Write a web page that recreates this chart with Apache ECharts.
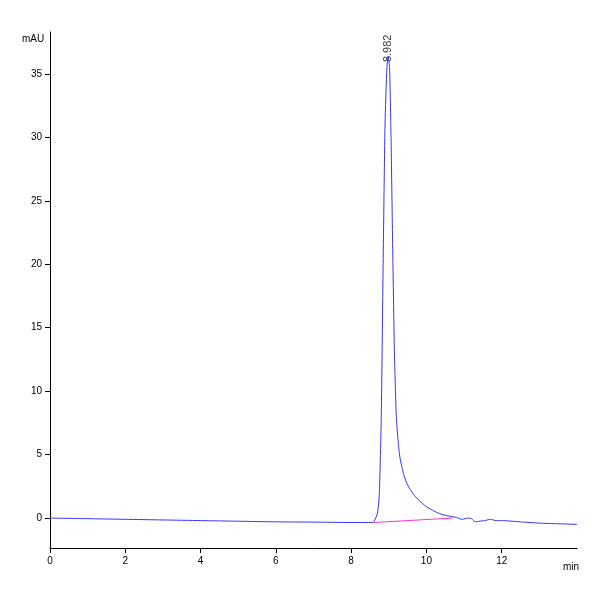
<!DOCTYPE html>
<html><head><meta charset="utf-8">
<script src="https://cdn.jsdelivr.net/npm/echarts@6/dist/echarts.min.js"></script>
<style>html,body{margin:0;background:#fff}#c{width:600px;height:600px}</style>
</head><body><div id="c"></div>
<script>
const times = [0,1,2,3,4,5,6,7,8,8.5,8.6,8.7,8.75,8.8,8.85,8.9,8.95,8.98,9.02,9.06,9.1,9.15,9.2,9.25,9.3,9.4,9.5,9.65,9.8,10,10.2,10.4,10.6,10.8,10.95,11.1,11.2,11.3,11.4,11.55,11.7,11.85,12,12.5,13,13.5,14];
const signal = [0,-0.05,-0.1,-0.15,-0.2,-0.25,-0.3,-0.32,-0.35,-0.35,-0.3,0.4,2,8,20,31,35.5,36.4,35.5,30,22,13,8,6,4.7,3.4,2.6,1.9,1.4,0.9,0.55,0.3,0.15,0.05,-0.1,0.0,-0.05,-0.3,-0.25,-0.2,-0.1,-0.2,-0.2,-0.3,-0.4,-0.45,-0.5];
const baselineX = [8.6,10.7];
const baselineY = [-0.35,0.0];
const peakLabel = "8.982";
const peakPoint = [8.982,36.4];
const yTicks = [0,5,10,15,20,25,30,35];
const xTicks = [0,2,4,6,8,10,12];
const font = "Liberation Sans";
const chart = echarts.init(document.getElementById('c'));
chart.setOption({
  animation:false,
  grid:{left:50,right:23,top:32,bottom:52},
  xAxis:{type:'value',min:0,max:14,
    axisLine:{onZero:false,lineStyle:{color:'#000'}},
    axisTick:{customValues:xTicks,length:5,lineStyle:{color:'#000'}},
    axisLabel:{customValues:xTicks,color:'#000',fontFamily:font,fontSize:10},
    splitLine:{show:false}},
  yAxis:{type:'value',min:-2.36,max:38.3,
    axisLine:{show:true,onZero:false,lineStyle:{color:'#000'}},
    axisTick:{show:true,customValues:yTicks,length:5,lineStyle:{color:'#000'}},
    axisLabel:{customValues:yTicks,color:'#000',fontFamily:font,fontSize:10},
    splitLine:{show:false}},
  graphic:[
    {type:'text',left:22,top:34,style:{text:'mAU',font:'10px '+font,fill:'#000'}},
    {type:'text',left:563,top:562,style:{text:'min',font:'10px '+font,fill:'#000'}}
  ],
  series:[
    {type:'line',data:baselineX.map((x,i)=>[x,baselineY[i]]),symbol:'none',lineStyle:{color:'#ff33cc',width:1}},
    {type:'line',data:times.map((t,i)=>[t,signal[i]]),symbol:'none',smooth:0.2,lineStyle:{color:'#3333ff',width:1}},
    {type:'scatter',data:[peakPoint],symbolSize:0,
      label:{show:true,formatter:peakLabel,rotate:90,position:'top',distance:-6,align:'left',verticalAlign:'middle',color:'#000',fontFamily:font,fontSize:11}}
  ]
});
</script></body></html>
